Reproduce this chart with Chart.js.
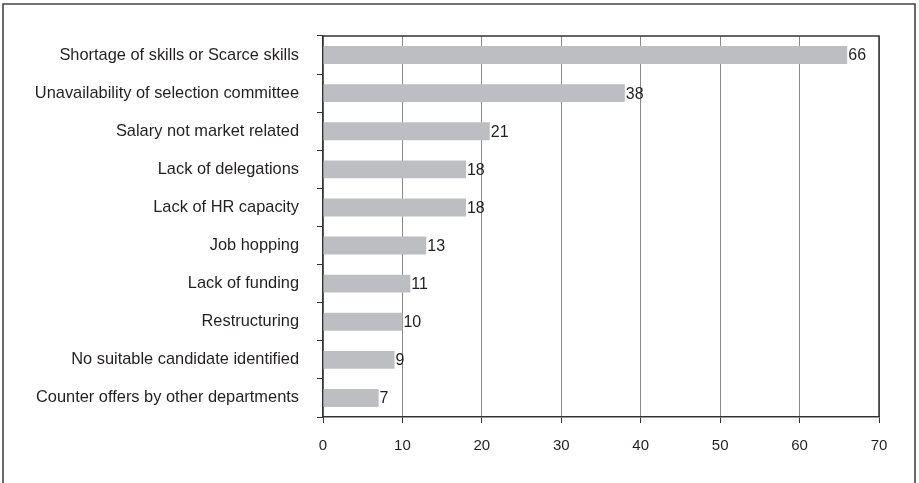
<!DOCTYPE html>
<html>
<head>
<meta charset="utf-8">
<script src="https://cdn.jsdelivr.net/npm/chart.js@4"></script>
<style>
  html, body { margin: 0; padding: 0; background: #fff; }
  canvas { display: block; }
</style>
</head>
<body>
<canvas id="grafico" width="919" height="483"></canvas>
<script>
const categorias = [
  "Shortage of skills or Scarce skills",
  "Unavailability of selection committee",
  "Salary not market related",
  "Lack of delegations",
  "Lack of HR capacity",
  "Job hopping",
  "Lack of funding",
  "Restructuring",
  "No suitable candidate identified",
  "Counter offers by other departments"
];
const valores = [66, 38, 21, 18, 18, 13, 11, 10, 9, 7];
const ejeMin = 0;
const ejeMax = 70;
const paso = 10;

const colorTexto = "#231f20";
const colorEje = "#333333";

// marco exterior y borde superior/derecho del area del grafico
const marco = {
  id: "marco",
  afterDraw(chart) {
    const { ctx, chartArea: a, width, height } = chart;
    ctx.save();
    ctx.strokeStyle = colorEje;
    ctx.lineWidth = 1.5;
    ctx.beginPath();
    ctx.moveTo(a.left, a.top);
    ctx.lineTo(a.right, a.top);
    ctx.lineTo(a.right, a.bottom);
    ctx.stroke();
    ctx.strokeStyle = "#444";
    ctx.lineWidth = 1.6;
    ctx.beginPath();
    ctx.moveTo(3, height + 5);
    ctx.lineTo(3, 4);
    ctx.lineTo(width - 4, 4);
    ctx.lineTo(width - 4, height + 5);
    ctx.stroke();
    ctx.restore();
  }
};

// valores al final de cada barra
const etiquetas = {
  id: "etiquetas",
  afterDatasetsDraw(chart) {
    const { ctx } = chart;
    const meta = chart.getDatasetMeta(0);
    ctx.save();
    ctx.fillStyle = colorTexto;
    ctx.font = "16px 'Liberation Sans', Arial, sans-serif";
    ctx.textAlign = "left";
    ctx.textBaseline = "middle";
    meta.data.forEach((bar, i) => {
      ctx.fillText(String(valores[i]), bar.x + 1, bar.y + 1);
    });
    ctx.restore();
  }
};

const ctx = document.getElementById("grafico").getContext("2d");
new Chart(ctx, {
  type: "bar",
  data: {
    labels: categorias,
    datasets: [{
      data: valores,
      backgroundColor: "#bdbec1",
      borderWidth: 0,
      categoryPercentage: 1,
      barPercentage: 0.47
    }]
  },
  options: {
    indexAxis: "y",
    responsive: false,
    animation: false,
    layout: { padding: { top: 36, right: 40, left: 0, bottom: 0 } },
    plugins: {
      legend: { display: false },
      tooltip: { enabled: false }
    },
    scales: {
      x: {
        min: ejeMin,
        max: ejeMax,
        afterFit(scale) { scale.height = 66; },
        ticks: {
          stepSize: paso,
          color: colorTexto,
          font: { family: "'Liberation Sans', Arial, sans-serif", size: 15 },
          padding: 14
        },
        grid: {
          color: "#8a8a8a",
          lineWidth: 1,
          tickColor: colorEje,
          tickLength: 6
        },
        border: { color: colorEje, width: 1.5 }
      },
      y: {
        afterFit(scale) { scale.width = 323; },
        ticks: {
          color: colorTexto,
          font: { family: "'Liberation Sans', Arial, sans-serif", size: 16.4 },
          padding: 18
        },
        grid: {
          drawOnChartArea: false,
          tickColor: colorEje,
          tickLength: 6
        },
        border: { color: colorEje, width: 1.5 }
      }
    }
  },
  plugins: [marco, etiquetas]
});
</script>
</body>
</html>
